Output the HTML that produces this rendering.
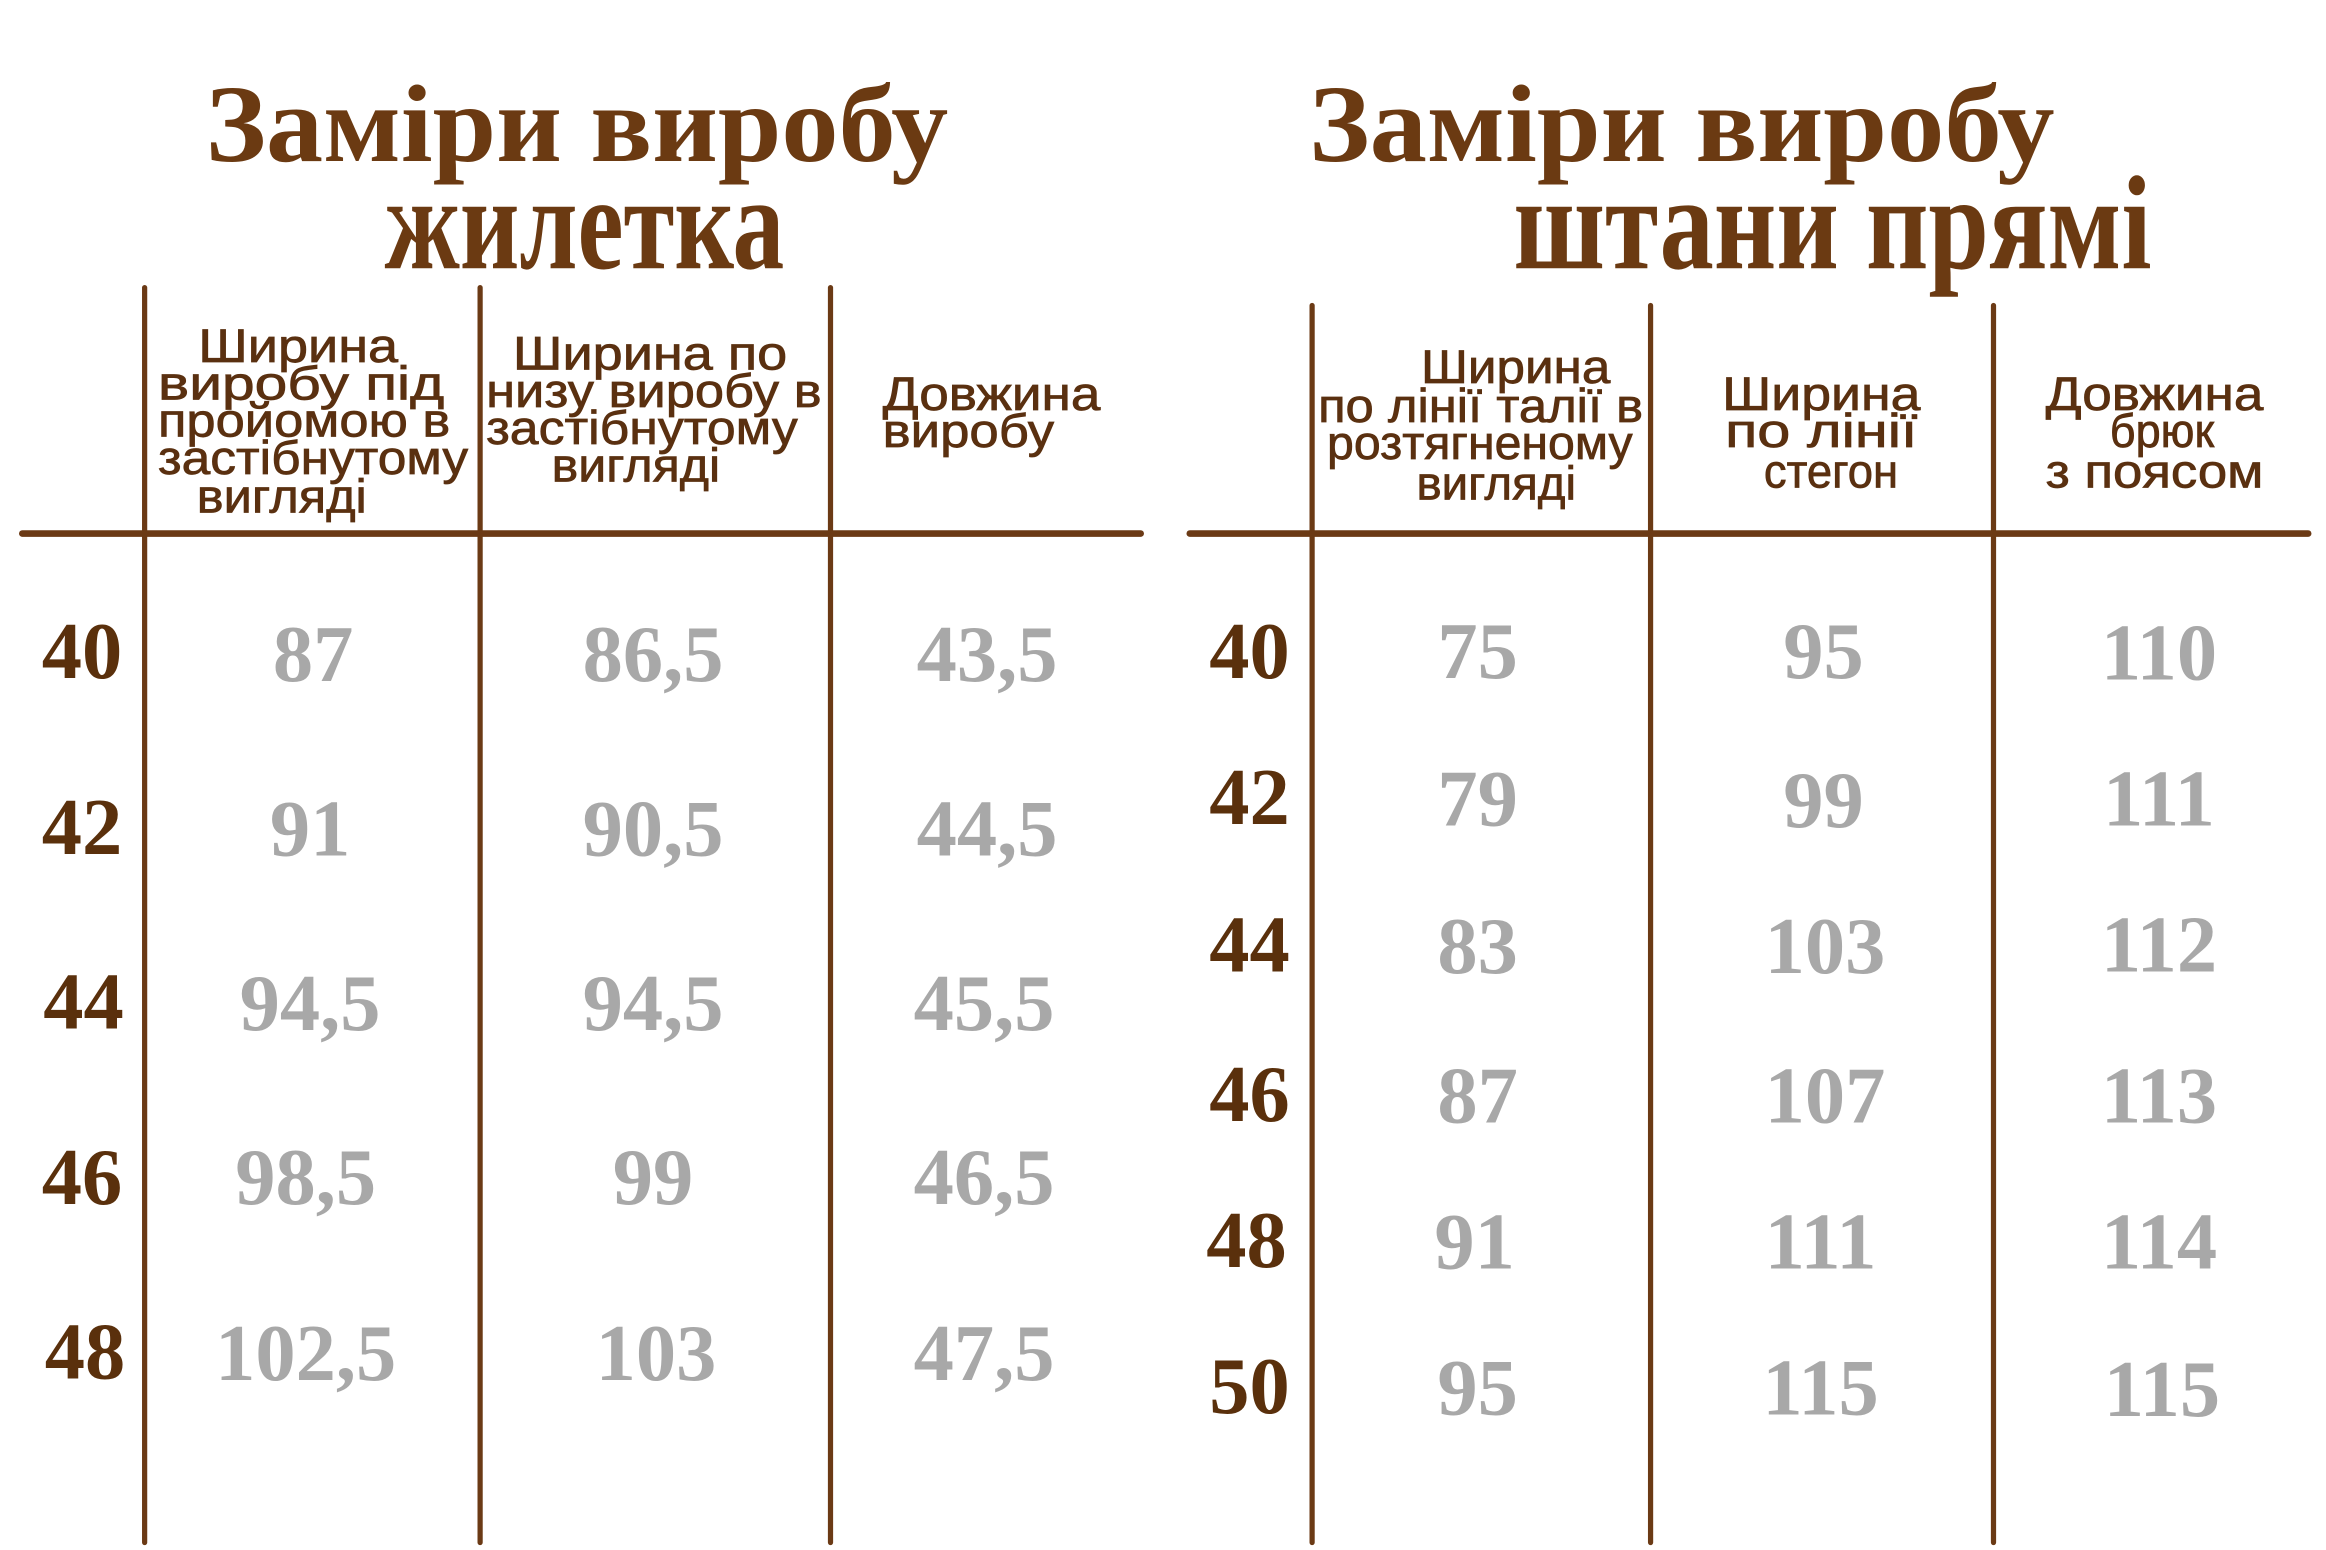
<!DOCTYPE html>
<html><head><meta charset="utf-8"><style>html,body{margin:0;padding:0;background:#fff}svg{display:block}</style></head>
<body>
<svg width="2326" height="1550" viewBox="0 0 1560 1040" preserveAspectRatio="none" xmlns="http://www.w3.org/2000/svg">
<rect width="1560" height="1040" fill="#fff"/>
<g font-family="Liberation Serif, serif" font-weight="bold" fill="#6b3a12">
<text x="138" y="108" font-size="74" textLength="498" lengthAdjust="spacingAndGlyphs">Заміри виробу</text>
<text x="258" y="180" font-size="90" textLength="268" lengthAdjust="spacingAndGlyphs">жилетка</text>
<text x="878" y="108" font-size="74" textLength="500" lengthAdjust="spacingAndGlyphs">Заміри виробу</text>
<text x="1015" y="180" font-size="90" textLength="428" lengthAdjust="spacingAndGlyphs">штани прямі</text>
</g>
<g stroke="#6b3a15" stroke-linecap="round">
<line x1="97" y1="193" x2="97" y2="1035" stroke-width="3.5"/>
<line x1="322" y1="193" x2="322" y2="1035" stroke-width="3.5"/>
<line x1="557" y1="193" x2="557" y2="1035" stroke-width="3.5"/>
<line x1="15" y1="358" x2="765" y2="358" stroke-width="4.5"/>
<line x1="880" y1="205" x2="880" y2="1035" stroke-width="3.5"/>
<line x1="1107" y1="205" x2="1107" y2="1035" stroke-width="3.5"/>
<line x1="1337" y1="205" x2="1337" y2="1035" stroke-width="3.5"/>
<line x1="798" y1="358" x2="1548" y2="358" stroke-width="4.5"/>
</g>
<g font-family="Liberation Sans, sans-serif" fill="#5a3010" stroke="#5a3010" stroke-width="0.5" font-size="32">
<text x="133" y="243" textLength="134" lengthAdjust="spacingAndGlyphs">Ширина</text>
<text x="106" y="268" textLength="192" lengthAdjust="spacingAndGlyphs">виробу  під</text>
<text x="106" y="293" textLength="196" lengthAdjust="spacingAndGlyphs">пройомою  в</text>
<text x="106" y="318" textLength="208" lengthAdjust="spacingAndGlyphs">застібнутому</text>
<text x="132" y="344" textLength="114" lengthAdjust="spacingAndGlyphs">вигляді</text>
<text x="344" y="248" textLength="184" lengthAdjust="spacingAndGlyphs">Ширина по</text>
<text x="326" y="273" textLength="225" lengthAdjust="spacingAndGlyphs">низу виробу в</text>
<text x="326" y="298" textLength="209" lengthAdjust="spacingAndGlyphs">застібнутому</text>
<text x="370" y="323" textLength="113" lengthAdjust="spacingAndGlyphs">вигляді</text>
<text x="592" y="275" textLength="146" lengthAdjust="spacingAndGlyphs">Довжина</text>
<text x="592" y="300" textLength="115" lengthAdjust="spacingAndGlyphs">виробу</text>
<text x="953" y="257" textLength="127" lengthAdjust="spacingAndGlyphs">Ширина</text>
<text x="884" y="283" textLength="218" lengthAdjust="spacingAndGlyphs">по лінії талії в</text>
<text x="890" y="308" textLength="205" lengthAdjust="spacingAndGlyphs">розтягненому</text>
<text x="950" y="335" textLength="107" lengthAdjust="spacingAndGlyphs">вигляді</text>
<text x="1155" y="275" textLength="133" lengthAdjust="spacingAndGlyphs">Ширина</text>
<text x="1157" y="300" textLength="129" lengthAdjust="spacingAndGlyphs">по  лінії</text>
<text x="1183" y="327" textLength="90" lengthAdjust="spacingAndGlyphs">стегон</text>
<text x="1372" y="275" textLength="146" lengthAdjust="spacingAndGlyphs">Довжина</text>
<text x="1415" y="300" textLength="70" lengthAdjust="spacingAndGlyphs">брюк</text>
<text x="1372" y="327" textLength="146" lengthAdjust="spacingAndGlyphs">з поясом</text>
</g>
<g font-family="Liberation Serif, serif" font-weight="bold" font-size="54" text-anchor="middle" fill="#5a300c">
<text x="55" y="455">40</text><text x="55" y="573">42</text><text x="56" y="690">44</text><text x="55" y="808">46</text><text x="57" y="925">48</text>
<text x="838" y="455">40</text><text x="838" y="553">42</text><text x="838" y="652">44</text><text x="838" y="752">46</text><text x="836" y="850">48</text><text x="838" y="948">50</text>
</g>
<g font-family="Liberation Serif, serif" font-weight="bold" font-size="54" text-anchor="middle" fill="#a8a8a8">
<text x="210" y="457">87</text><text x="438" y="457">86,5</text><text x="662" y="457">43,5</text>
<text x="208" y="574">91</text><text x="438" y="574">90,5</text><text x="662" y="574">44,5</text>
<text x="208" y="691">94,5</text><text x="438" y="691">94,5</text><text x="660" y="691">45,5</text>
<text x="205" y="808">98,5</text><text x="438" y="808">99</text><text x="660" y="808">46,5</text>
<text x="205" y="926">102,5</text><text x="440" y="926">103</text><text x="660" y="926">47,5</text>
<text x="991" y="455">75</text><text x="1223" y="455">95</text><text x="1448" y="456">110</text>
<text x="991" y="554">79</text><text x="1223" y="555">99</text><text x="1448" y="554">111</text>
<text x="991" y="653">83</text><text x="1224" y="653">103</text><text x="1448" y="652">112</text>
<text x="991" y="753">87</text><text x="1224" y="753">107</text><text x="1448" y="753">113</text>
<text x="989" y="851">91</text><text x="1221" y="851">111</text><text x="1448" y="851">114</text>
<text x="991" y="949">95</text><text x="1221" y="949">115</text><text x="1450" y="950">115</text>
</g>
</svg>
</body></html>
